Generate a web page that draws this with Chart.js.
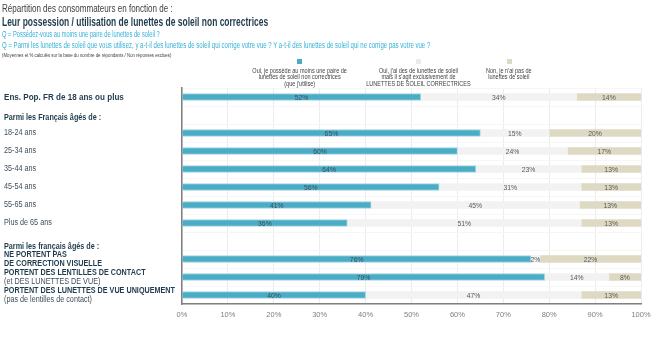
<!DOCTYPE html>
<html>
<head>
<meta charset="utf-8">
<script src="https://cdn.jsdelivr.net/npm/chart.js@4"></script>
<style>
  html, body { margin: 0; padding: 0; background: #fff; }
  #wrap { position: relative; width: 657px; height: 337px; overflow: hidden; font-family: 'Liberation Sans', Arial, sans-serif; }
  #wrap canvas { position: absolute; left: 0; top: 0; }
  .txt { position: absolute; white-space: nowrap; transform-origin: left center; }
  .leg { position: absolute; white-space: nowrap; text-align: center; font-size: 6.5px; line-height: 6.5px; color: #404040; transform-origin: center center; }
  .sq { position: absolute; width: 5px; height: 5px; }
</style>
</head>
<body>
<div id="wrap">
  <canvas id="chart" width="657" height="337"></canvas>
</div>
<script>
// Rows from top to bottom; empty strings are the spacer rows under the group headings
const CATEGORIES = ['Ens. Pop. FR de 18 ans ou plus', '', '18-24 ans', '25-34 ans', '35-44 ans', '45-54 ans',
  '55-65 ans', 'Plus de 65 ans', '', 'NE PORTENT PAS DE CORRECTION VISUELLE',
  'PORTENT DES LENTILLES DE CONTACT', 'PORTENT DES LUNETTES DE VUE UNIQUEMENT'];
const OUI_NON_CORRECTRICES = [52, null, 65, 60, 64, 56, 41.2, 36, null, 76, 79, 40];
const OUI_CORRECTRICES = [34, null, 15, 24, 23, 31, 45.4, 51, null, 2, 14, 47];
const NON = [14, null, 20, 17, 13, 13, 13.4, 13, null, 22, 8, 13];
const SERIES_NAMES = [
  ['Oui, je possède au moins une paire de', 'lunettes de soleil non correctrices', "(que j'utilise)"],
  ["Oui, j'ai des de lunettes de soleil", "mais il s'agit exclusivement de", 'LUNETTES DE SOLEIL CORRECTRICES'],
  ["Non, je n'ai pas de", 'lunettes de soleil']
];
const X_MIN = 0, X_MAX = 100, X_STEP = 10;

const FONT = "'Liberation Sans', Arial, sans-serif";
const COLORS = ['#4bacc6', '#f2f2f2', '#ddd9c3'];
const NAVY = '#1f3b4d';
const SX = 0.85; // the source typography is horizontally condensed

// left-hand row labels: lines per row (bold flag), vertical nudge
const ROW_LINES = [
  { lines: [[CATEGORIES[0], true, 9.5]], dy: 0 },
  { lines: [['Parmi les Français âgés de :', true]], dy: 3 },
  { lines: [[CATEGORIES[2], false]], dy: 0 },
  { lines: [[CATEGORIES[3], false]], dy: 0 },
  { lines: [[CATEGORIES[4], false]], dy: 0 },
  { lines: [[CATEGORIES[5], false]], dy: 0 },
  { lines: [[CATEGORIES[6], false]], dy: 0 },
  { lines: [[CATEGORIES[7], false]], dy: 0 },
  { lines: [['Parmi les français âgés de :', true]], dy: 6 },
  { lines: [['NE PORTENT PAS', true], ['DE CORRECTION VISUELLE', true]], dy: 0 },
  { lines: [['PORTENT DES LENTILLES DE CONTACT', true], ['(et DES LUNETTES DE VUE)', false]], dy: 0 },
  { lines: [['PORTENT DES LUNETTES DE VUE UNIQUEMENT', true], ['(pas de lentilles de contact)', false]], dy: 0 }
];

const rowLabels = {
  id: 'rowLabels',
  afterDraw(chart) {
    const ctx = chart.ctx;
    const y = chart.scales.y;
    ctx.save();
    ctx.textBaseline = 'middle';
    ROW_LINES.forEach((row, i) => {
      const cy = y.getPixelForValue(i) + row.dy;
      const n = row.lines.length;
      row.lines.forEach(([text, bold, size], k) => {
        const ly = cy + (k - (n - 1) / 2) * 9;
        ctx.font = `${bold ? 'bold ' : ''}${size || 8.5}px ${FONT}`;
        ctx.fillStyle = bold ? NAVY : '#3f4e5c';
        ctx.save();
        ctx.translate(4, ly);
        ctx.scale(SX, 1);
        ctx.fillText(text, 0, 0);
        ctx.restore();
      });
    });
    ctx.restore();
  }
};

const valueLabels = {
  id: 'valueLabels',
  afterDatasetsDraw(chart) {
    const ctx = chart.ctx;
    const right = chart.chartArea.right;
    ctx.save();
    ctx.textBaseline = 'middle';
    ctx.textAlign = 'center';
    ctx.font = `8px ${FONT}`;
    chart.data.datasets.forEach((ds, i) => {
      chart.getDatasetMeta(i).data.forEach((bar, j) => {
        const v = ds.data[j];
        if (v == null) return;
        const { x, base, y } = bar.getProps(['x', 'base', 'y'], true);
        const cx = (Math.min(x, right) + base) / 2;
        ctx.fillStyle = i === 0 ? '#3b4f5a' : '#595959';
        ctx.save();
        ctx.translate(cx, y + 0.5);
        ctx.scale(SX, 1);
        ctx.fillText(Math.round(v) + '%', 0, 0);
        ctx.restore();
      });
    });
    ctx.restore();
  }
};

new Chart(document.getElementById('chart'), {
  type: 'bar',
  data: {
    labels: CATEGORIES,
    datasets: [OUI_NON_CORRECTRICES, OUI_CORRECTRICES, NON].map((d, i) => ({
      label: SERIES_NAMES[i].join(' '),
      data: d,
      backgroundColor: COLORS[i],
      borderColor: i === 0 ? '#9fd2e1' : COLORS[i],
      borderWidth: i === 0 ? 1 : 0,
      borderSkipped: 'left',
      barThickness: 7
    }))
  },
  options: {
    indexAxis: 'y',
    responsive: false,
    animation: false,
    layout: { padding: { left: 182, right: 16, top: 88, bottom: 0 } },
    plugins: {
      legend: { display: false },
      tooltip: { enabled: false }
    },
    scales: {
      x: {
        stacked: true,
        min: X_MIN,
        max: X_MAX,
        ticks: {
          stepSize: X_STEP,
          callback: v => v + '%',
          color: '#7f7f7f',
          font: { family: FONT, size: 7.5 },
          padding: 6
        },
        grid: { color: '#ececec', drawTicks: false },
        border: { color: '#808080', width: 1.5 },
        afterFit: s => { s.height = 33; }
      },
      y: {
        stacked: true,
        ticks: { display: false },
        grid: { color: '#f6f6f6', drawTicks: false },
        border: { color: '#808080', width: 1.5 },
        afterFit: s => { s.width = 0; }
      }
    }
  },
  plugins: [valueLabels, rowLabels]
});

// header text, condensed to the widths of the source
const wrap = document.getElementById('wrap');
const HEADER = [
  ['Répartition des consommateurs en fonction de :', 8, 171, 'normal', 11, '#404040'],
  ['Leur possession / utilisation de lunettes de soleil non correctrices', 22, 266, 'bold', 12.5, NAVY],
  ['Q = Possédez-vous au moins une paire de lunettes de soleil ?', 34.5, 158, 'normal', 8.5, '#35b1d9'],
  ['Q = Parmi les lunettes de soleil que vous utilisez, y a-t-il des lunettes de soleil qui corrige votre vue ? Y a-t-il des lunettes de soleil qui ne corrige pas votre vue ?', 45, 428, 'normal', 8.5, '#35b1d9'],
  ['(Moyennes et % calculés sur la base du nombre de répondants / Non réponses exclues)', 54.5, 169, 'normal', 6, '#404040']
];
HEADER.forEach(([text, cy, w, weight, size, color]) => {
  const el = document.createElement('div');
  el.className = 'txt';
  el.textContent = text;
  el.style.cssText = `left:2px;top:${cy - size / 2}px;font-size:${size}px;line-height:${size}px;font-weight:${weight};color:${color};`;
  wrap.appendChild(el);
  el.style.transform = `scaleX(${w / el.offsetWidth})`;
});

// legend
const LEGEND_X = [299, 418, 509];
SERIES_NAMES.forEach((lines, i) => {
  const sq = document.createElement('div');
  sq.className = 'sq';
  sq.style.cssText = `left:${LEGEND_X[i] - 2.5}px;top:59px;background:${i === 1 ? '#ebeae3' : COLORS[i]};`;
  wrap.appendChild(sq);
  const el = document.createElement('div');
  el.className = 'leg';
  el.innerHTML = lines.join('<br>');
  el.style.top = '67.8px';
  wrap.appendChild(el);
  el.style.left = (LEGEND_X[i] - el.offsetWidth / 2) + 'px';
  el.style.transform = `scaleX(${SX})`;
});
</script>
</body>
</html>
